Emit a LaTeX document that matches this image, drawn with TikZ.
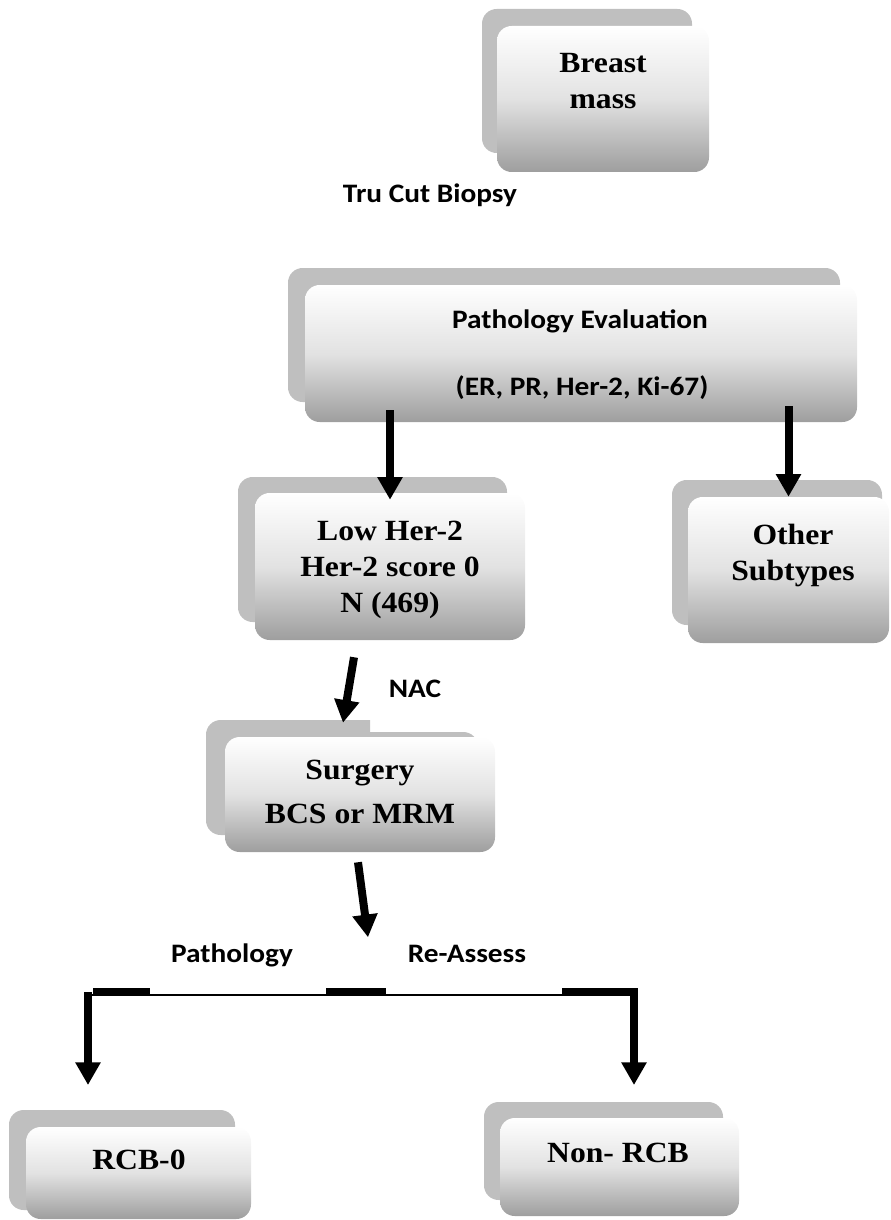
\documentclass[tikz,border=0pt]{standalone}
\usepackage{fontspec}
\setmainfont{Liberation Serif}[FakeStretch=1.08]
\newfontfamily\notefont{Carlito}[FakeStretch=1.1]
\usetikzlibrary{arrows.meta,calc}
\definecolor{boxback}{RGB}{191,191,191}
\definecolor{boxmid}{RGB}{226,226,226}
\definecolor{boxshade}{RGB}{158,158,158}
\tikzset{
  backbox/.style={fill=boxback, rounded corners=11pt},
  frontbox/.style={rounded corners=11pt, top color=white, bottom color=boxshade, middle color=boxmid, inner sep=0pt},
  boxtext/.style={font=\fontsize{22}{27}\selectfont\bfseries, align=center, inner sep=0pt},
  notetext/.style={font=\notefont\fontsize{20}{24}\selectfont\bfseries, inner sep=0pt, anchor=base},
  flowarrow/.style={line width=6pt, -{Triangle[length=17pt,width=18pt]}},
}
\begin{document}
\begin{tikzpicture}[x=0.75pt,y=-0.75pt]
\useasboundingbox (0,0) rectangle (890,1220);
% back plates
\fill[backbox] (482,9) rectangle (692,153);
\fill[backbox] (288,268) rectangle (840,402);
\fill[backbox] (238,477) rectangle (507,622);
\fill[backbox] (672,480) rectangle (882,625);
\fill[boxback] (478,732) -- (370,732) -- (370,720) [rounded corners=11pt] -- (206,720) -- (206,835) -- (478,835) -- cycle;
\fill[backbox] (9,1110) rectangle (235,1210);
\fill[backbox] (484,1102) rectangle (723,1200);
% front boxes
\node[frontbox, minimum width=159pt, minimum height=109.5pt] (breastbox) at (603,99) {};
\node[frontbox, minimum width=414pt, minimum height=102.75pt] (pathbox) at (581,353.5) {};
\node[frontbox, minimum width=202.5pt, minimum height=110.25pt] (lowbox) at (390,566.5) {};
\node[frontbox, minimum width=150.75pt, minimum height=109.5pt] (otherbox) at (788.5,570) {};
\node[frontbox, minimum width=202.5pt, minimum height=86.25pt] (surgbox) at (360,794.5) {};
\node[frontbox, minimum width=168.75pt, minimum height=69pt] (rcbbox) at (138.5,1173) {};
\node[frontbox, minimum width=179.25pt, minimum height=73.5pt] (nonrcbbox) at (619.5,1167) {};
% texts
\node[boxtext] (breast) at (603,81) {Breast\\mass};
\node[notetext] (biopsy) at (430,202) {Tru Cut Biopsy};
\node[notetext] (pathtitle) at (580,328) {Pathology Evaluation};
\node[notetext] (pathmarkers) at (582,395) {(ER, PR, Her-2, Ki-67)};
\node[boxtext] (low) at (390,570) {Low Her-2\\Her-2 score 0\\N (469)};
\node[boxtext] (other) at (793,555) {Other\\Subtypes};
\node[notetext] (nac) at (415,697) {NAC};
\node[boxtext] (surgery) at (360,792) {Surgery\\[6pt]BCS or MRM};
\node[notetext] (pathology) at (232,962) {Pathology};
\node[notetext] (reassess) at (467,962) {Re-Assess};
\node[boxtext] (rcb) at (139,1160) {RCB-0};
\node[boxtext] (nonrcb) at (618,1153) {Non- RCB};
% arrows
\draw[flowarrow] ($(pathbox.south -| lowbox.north)+(0,-12)$) -- ($(lowbox.north)+(0,7)$);
\draw[flowarrow] ($(pathbox.south -| otherbox.north)+(0,-16)$) -- (otherbox.north);
\draw[flowarrow] ($(lowbox.south)+(-36,17)$) -- ($(surgbox.north)+(-17,-14)$);
\draw[flowarrow] ($(surgbox.south)+(-2,10)$) -- ($(surgbox.south)+(8,85)$);
% split line
\coordinate (busL) at (88,995);
\coordinate (busR) at (634,995);
\draw[line width=1pt] (busL) -- (busR);
\fill (93,988) rectangle (150,995);
\fill (326,988) rectangle (386,995);
\fill (562,988) rectangle (637,995);
\draw[flowarrow] ($(busL)+(0,-3)$) -- ($(busL)+(0,90)$);
\draw[flowarrow] ($(busR)+(0,-7)$) -- ($(busR)+(0,90)$);
\end{tikzpicture}
\end{document}
